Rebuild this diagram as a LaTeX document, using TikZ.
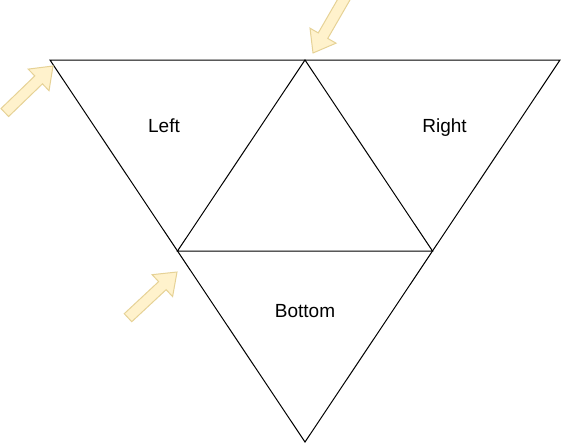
\documentclass[tikz,border=0pt]{standalone}
\usepackage{fontspec}
\setmainfont{Liberation Sans}
\usepackage{tikz}
\usetikzlibrary{positioning}
\definecolor{arrowfill}{HTML}{FFF2CC}
\definecolor{arrowline}{HTML}{E6D296}

\begin{document}
\begin{tikzpicture}
	[x=1pt,y=-1pt,
	edge/.style={draw=black,line width=1pt,line join=miter},
	label/.style={anchor=base,inner sep=0pt,font=\fontsize{19}{23}\selectfont},
	pushbox/.style={fill=arrowfill,draw=arrowline,line width=1pt,line join=miter},
	pics/push/.style={code={
		\draw[pushbox] (0,0)--(-20,-15)--(-20,-5.5)--(-67,-5.5)--(-67,5.5)--(-20,5.5)--(-20,15)--cycle;}}]
	\useasboundingbox (0,0) rectangle (561,444);

	%corners
	\coordinate (tl) at (50,60);
	\coordinate (tr) at (560,60);
	\coordinate (bot) at (305,442);
	\coordinate (tm) at (305,60);
	\coordinate (lm) at (177.5,251);
	\coordinate (rm) at (432.5,251);

	\draw[edge] (tl) -- (tr) -- (bot) -- cycle;
	\draw[edge] (tm) -- (lm) -- (rm) -- cycle;

	%faces
	\node[label] (left) at (164,132) {Left};
	\node[label] (right) at (444.5,132) {Right};
	\node[label] (bottom) at (305,317) {Bottom};

	%pushes
	\pic[rotate=44] (pushA) at (53,66) {push};
	\pic[rotate=240] (pushB) at (313,53) {push};
	\pic[rotate=43] (pushC) at (177,272) {push};
\end{tikzpicture}
\end{document}
